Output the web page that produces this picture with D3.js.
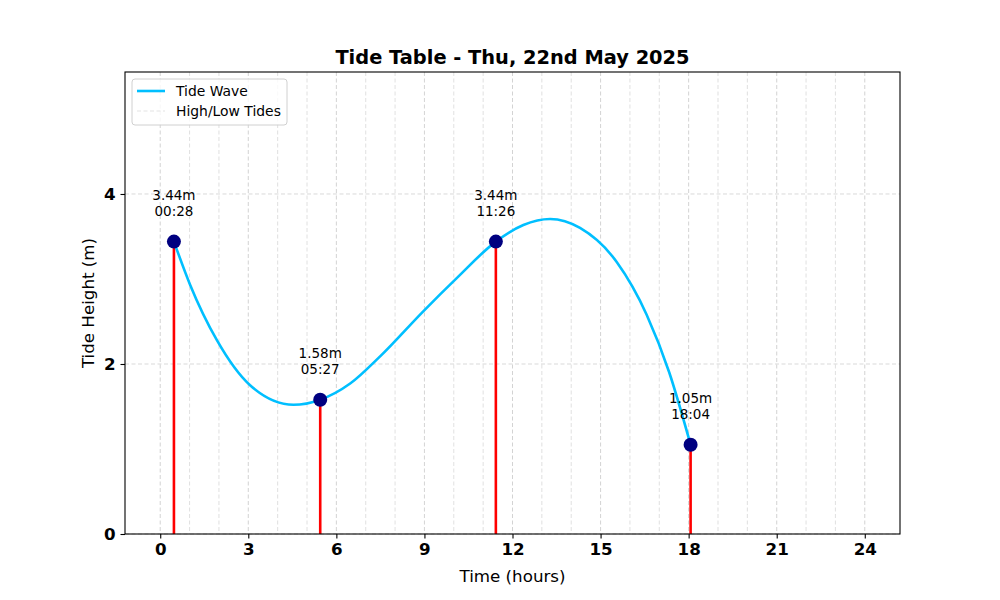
<!DOCTYPE html>
<html>
<head>
<meta charset="utf-8">
<script src="https://cdn.jsdelivr.net/npm/d3@7"></script>
<style>
  body { margin: 0; background: #fff; }
  svg { font-family: "DejaVu Sans", sans-serif; display: block; }
</style>
</head>
<body>
<svg id="chart" width="1000" height="600"></svg>
<script>
const TIDE_TIMES   = [0.467, 5.45, 11.433, 18.067];      // hours
const TIDE_CLOCK   = ["00:28", "05:27", "11:26", "18:04"];
const TIDE_HEIGHTS = [3.44, 1.58, 3.44, 1.05];            // metres

// tide wave samples
const WAVE_T = [0.467, 1.02, 1.93, 3.06, 4.54, 5.45, 6.47, 7.49, 8.96, 10.10,
                11.433, 12.37, 13.28, 14.30, 15.55, 16.57, 17.34, 18.067];
const WAVE_H = [3.44, 2.93, 2.28, 1.75, 1.52, 1.58, 1.77, 2.09, 2.62, 3.01,
                3.44, 3.635, 3.705, 3.60, 3.20, 2.58, 1.90, 1.05];

const X_TICKS = [0, 3, 6, 9, 12, 15, 18, 21, 24];
const X_GRID  = d3.range(0, 25, 1);
const Y_TICKS = [0, 2, 4];

const TITLE = "Tide Table - Thu, 22nd May 2025";

const M = {left: 125, right: 900, top: 72, bottom: 534};
const svg = d3.select("#chart");

const x = d3.scaleLinear().domain([-1.2, 25.2]).range([M.left, M.right]);
const y = d3.scaleLinear().domain([0, 5.435]).range([M.bottom, M.top]);

// grid (dashed, light) — minor hours a touch fainter than the 3-hour majors
const gGrid = svg.append("g");
gGrid.selectAll("line.vx").data(X_GRID).enter().append("line")
  .attr("x1", d => x(d)).attr("x2", d => x(d))
  .attr("y1", M.top).attr("y2", M.bottom)
  .attr("stroke", d => d % 3 === 0 ? "#c8c8c8" : "#d8d8d8")
  .attr("stroke-width", 0.8).attr("stroke-dasharray", "4,2.5");
gGrid.selectAll("line.hy").data(Y_TICKS).enter().append("line")
  .attr("x1", M.left).attr("x2", M.right)
  .attr("y1", d => y(d)).attr("y2", d => y(d))
  .attr("stroke", "#cfcfcf")
  .attr("stroke-width", 0.8).attr("stroke-dasharray", "4,2.5");

// high/low stems
svg.append("g").selectAll("line").data(TIDE_TIMES).enter().append("line")
  .attr("x1", d => x(d)).attr("x2", d => x(d))
  .attr("y1", y(0)).attr("y2", (d, i) => y(TIDE_HEIGHTS[i]))
  .attr("stroke", "#ff0000").attr("stroke-width", 2.6);

// wave — monotone-in-x Hermite through the hand-read samples
const line = d3.line()
  .x((d, i) => x(WAVE_T[i])).y(d => y(d))
  .curve(d3.curveMonotoneX);
svg.append("path").datum(WAVE_H)
  .attr("d", line)
  .attr("fill", "none").attr("stroke", "#00bfff").attr("stroke-width", 2.6);

// markers
svg.append("g").selectAll("circle").data(TIDE_TIMES).enter().append("circle")
  .attr("cx", d => x(d)).attr("cy", (d, i) => y(TIDE_HEIGHTS[i]))
  .attr("r", 7).attr("fill", "#000080");

// annotations
const gAnn = svg.append("g").attr("font-size", 13.5).attr("text-anchor", "middle").attr("fill", "#000");
TIDE_TIMES.forEach((t, i) => {
  const cx = x(t), cy = y(TIDE_HEIGHTS[i]);
  gAnn.append("text").attr("x", cx).attr("y", cy - 42).text(TIDE_HEIGHTS[i].toFixed(2) + "m");
  gAnn.append("text").attr("x", cx).attr("y", cy - 26).text(TIDE_CLOCK[i]);
});

// frame
svg.append("rect")
  .attr("x", M.left).attr("y", M.top)
  .attr("width", M.right - M.left).attr("height", M.bottom - M.top)
  .attr("fill", "none").attr("stroke", "#000").attr("stroke-width", 1.1);

// axes
const xAxis = svg.append("g").attr("transform", `translate(0,${M.bottom})`)
  .call(d3.axisBottom(x).tickValues(X_TICKS).tickSize(4.5).tickPadding(5).tickFormat(d3.format("d")));
const yAxis = svg.append("g").attr("transform", `translate(${M.left},0)`)
  .call(d3.axisLeft(y).tickValues(Y_TICKS).tickSize(4.5).tickPadding(5).tickFormat(d3.format("d")));
[xAxis, yAxis].forEach(a => {
  a.select(".domain").remove();
  a.selectAll(".tick line").attr("stroke", "#000").attr("stroke-width", 1.1);
  a.selectAll(".tick text")
    .attr("font-family", "DejaVu Sans, sans-serif")
    .attr("font-size", 16.7).attr("font-weight", "bold").attr("fill", "#000");
});

// labels
svg.append("text").attr("x", (M.left + M.right) / 2).attr("y", 582)
  .attr("text-anchor", "middle").attr("font-size", 16.7).text("Time (hours)");
svg.append("text").attr("transform", `translate(94,${(M.top + M.bottom) / 2}) rotate(-90)`)
  .attr("text-anchor", "middle").attr("font-size", 16.7).text("Tide Height (m)");
svg.append("text").attr("x", (M.left + M.right) / 2).attr("y", 64)
  .attr("text-anchor", "middle").attr("font-size", 19.4).attr("font-weight", "bold").text(TITLE);

// legend
const lg = svg.append("g").attr("transform", "translate(132,79)");
lg.append("rect").attr("width", 155).attr("height", 46).attr("rx", 3)
  .attr("fill", "#fff").attr("fill-opacity", 0.8).attr("stroke", "#d0d0d0").attr("stroke-width", 1);
lg.append("line").attr("x1", 5).attr("x2", 33).attr("y1", 12).attr("y2", 12)
  .attr("stroke", "#00bfff").attr("stroke-width", 2.6);
lg.append("line").attr("x1", 5).attr("x2", 33).attr("y1", 32).attr("y2", 32)
  .attr("stroke", "#dcdcdc").attr("stroke-width", 0.8).attr("stroke-dasharray", "4,2.5");
lg.append("text").attr("x", 44).attr("y", 17).attr("font-size", 13.9).text("Tide Wave");
lg.append("text").attr("x", 44).attr("y", 37).attr("font-size", 13.9).text("High/Low Tides");
</script>
</body>
</html>
